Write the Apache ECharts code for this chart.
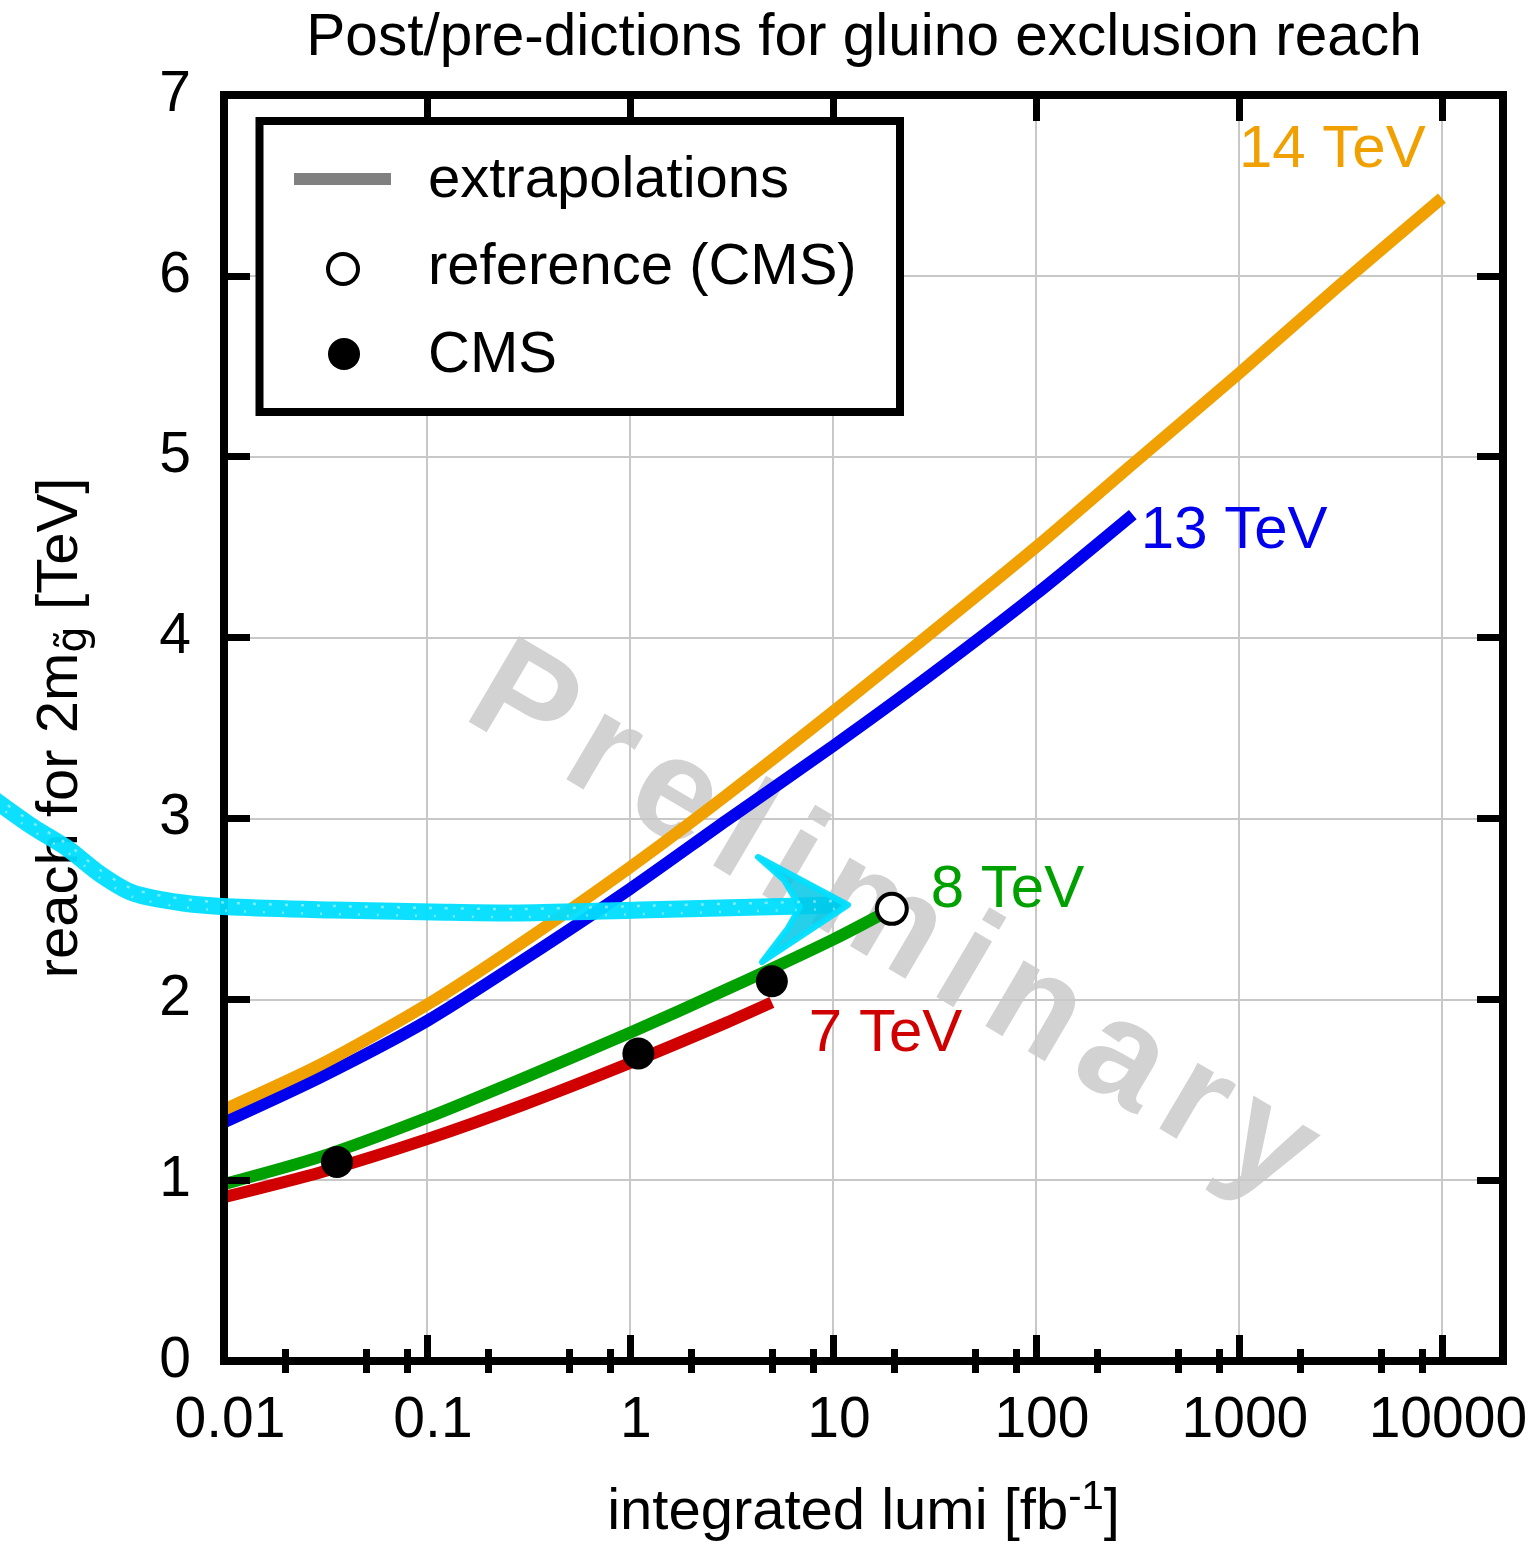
<!DOCTYPE html>
<html>
<head>
<meta charset="utf-8">
<script src="https://cdn.jsdelivr.net/npm/echarts@6/dist/echarts.min.js"></script>
<style>
  html, body { margin: 0; padding: 0; background: #fff; }
  #chart { width: 1537px; height: 1545px; }
</style>
</head>
<body>
<div id="chart"></div>
<script>
// Integrated luminosity (fb^-1) vs. reach for 2 m_gluino (TeV), per collision energy
const lumi14 = [0.01, 0.03, 0.1, 0.3, 1, 3, 10, 30, 100, 300, 1000, 3000, 10000];
const reach14 = [1.39, 1.64, 1.97, 2.32, 2.73, 3.13, 3.59, 4.02, 4.50, 4.96, 5.46, 5.93, 6.43];
const lumi13 = [0.01, 0.03, 0.1, 0.3, 1, 3, 10, 30, 100, 300];
const reach13 = [1.32, 1.57, 1.88, 2.22, 2.61, 2.99, 3.40, 3.79, 4.24, 4.68];
const lumi8 = [0.01, 0.03, 0.1, 0.3, 1, 3, 10, 19.5];
const reach8 = [0.978, 1.13, 1.345, 1.565, 1.815, 2.055, 2.33, 2.5];
const lumi7 = [0.01, 0.03, 0.1, 0.3, 1, 3, 5];
const reach7 = [0.906, 1.044, 1.227, 1.418, 1.648, 1.872, 1.983];

// CMS exclusion results and the reference point used for the extrapolation
const cmsLumi = [0.036, 1.1, 5];
const cmsReach = [1.1, 1.7, 2.1];
const refLumi = [19.5];
const refReach = [2.5];

// Axis ranges and ticks
const xMin = 0.01, xMax = 20000;
const yMin = 0, yMax = 7, yStep = 1;
const xMinorTicks = [0.02, 0.05, 0.08, 0.2, 0.5, 0.8, 2, 5, 8, 20, 50, 80,
                     200, 500, 800, 2000, 5000, 8000];

const FONT = 'Liberation Sans';
const pairs = (xs, ys) => xs.map((x, i) => [x, ys[i]]);
const fmtLog = v => {
  const e = Math.round(Math.log10(v));
  return e < 0 ? v.toFixed(-e) : String(Math.round(v));
};

const chart = echarts.init(document.getElementById('chart'), null, { renderer: 'canvas' });

const frameLine = { show: true, onZero: false, lineStyle: { color: '#000', width: 8, cap: 'square' } };
const majorTick = { show: true, inside: true, length: 26, lineStyle: { color: '#000', width: 7 } };
const minorTick = { show: true, inside: true, length: 12, lineStyle: { color: '#000', width: 7 },
                    customValues: xMinorTicks };
const gridLine = { show: true, lineStyle: { color: '#c8c8c8', width: 2 } };

function logX(extra) {
  return Object.assign({
    type: 'log', logBase: 10, min: xMin, max: xMax, gridIndex: 0,
    axisLine: { show: false }, axisTick: { show: false },
    axisLabel: { show: false }, splitLine: { show: false }, z: 5
  }, extra);
}
function linY(extra) {
  return Object.assign({
    type: 'value', min: yMin, max: yMax, interval: yStep, gridIndex: 0,
    axisLine: { show: false }, axisTick: { show: false },
    axisLabel: { show: false }, splitLine: { show: false }, z: 5
  }, extra);
}

const endLabel = (text, color, offset) => ({
  show: true, formatter: text, color: color, fontSize: 60, fontFamily: FONT,
  distance: 0, offset: offset
});
const curve = (name, xs, ys, color, offset) => ({
  name: name, type: 'line', xAxisIndex: 0, yAxisIndex: 0,
  data: pairs(xs, ys), showSymbol: false, smooth: 0.25,
  lineStyle: { color: color, width: 12, cap: 'butt', join: 'round' }, itemStyle: { color: color },
  endLabel: endLabel(name, color, offset), z: 3, silent: true
});

// Hand-drawn arrow pointing at the reference point
const arrowPath = [[-5, 800], [33, 827], [67, 848], [100, 874], [133, 893], [183, 903],
                   [233, 907], [333, 910], [433, 912], [520, 913], [640, 910], [760, 907], [835, 905]];
const shift = (pts, dy) => pts.map(p => [p[0], p[1] + dy]);

// "Preliminary" watermark, laid out letter by letter with wide spacing
const markText = 'Preliminary';
const markSize = 144;
const measure = document.createElement('canvas').getContext('2d');
measure.font = 'bold ' + markSize + 'px "' + FONT + '"';
let cursor = 0;
const markLetters = Array.from(markText).map(ch => {
  const el = {
    type: 'text', x: cursor, y: -0.35 * markSize,
    style: { text: ch, fontSize: markSize, fontWeight: 'bold', fontFamily: FONT,
             fill: 'rgba(90,90,90,0.27)', verticalAlign: 'middle', align: 'left' }
  };
  cursor += measure.measureText(ch).width + 17;
  return el;
});

const legendText = (y, text) => ({
  type: 'text', x: 428, y: y, z: 101,
  style: { text: text, fontSize: 58, fontFamily: FONT, fill: '#000', verticalAlign: 'middle' }
});

const option = {
  animation: false,
  backgroundColor: '#fff',
  textStyle: { fontFamily: FONT },
  title: {
    text: 'Post/pre-dictions for gluino exclusion reach',
    left: 859, top: 4, textAlign: 'center',
    textStyle: { fontSize: 58.5, fontWeight: 'normal', color: '#000', fontFamily: FONT }
  },
  grid: { left: 224, right: 34, top: 95, bottom: 184, containLabel: false, outerBoundsMode: 'none' },
  xAxis: [
    logX({
      position: 'bottom', axisLine: frameLine, axisTick: majorTick,
      axisLabel: { show: true, formatter: fmtLog, fontSize: 57, color: '#000', margin: 32,
                   padding: [0, 0, 0, 12], showMaxLabel: false, fontFamily: FONT },
      name: '{a|integrated lumi [fb}{s|-1}{a|]}',
      nameLocation: 'middle', nameGap: 117,
      nameTextStyle: {
        color: '#000',
        rich: {
          a: { fontSize: 58, lineHeight: 70, color: '#000', fontFamily: FONT },
          s: { fontSize: 40, lineHeight: 34, verticalAlign: 'top', color: '#000', fontFamily: FONT }
        }
      }
    }),
    logX({ position: 'bottom', axisTick: minorTick }),
    logX({ position: 'top', axisLine: frameLine, axisTick: majorTick }),
    logX({ position: 'top', axisTick: minorTick }),
    logX({ position: 'bottom', splitLine: gridLine, z: 0 })
  ],
  yAxis: [
    linY({
      position: 'left', axisLine: frameLine, axisTick: majorTick,
      axisLabel: { show: true, fontSize: 57, color: '#000', margin: 33, fontFamily: FONT },
      name: '{a|reach for 2m}{s|g\u0303}{a| [TeV]}',
      nameLocation: 'middle', nameGap: 128, nameRotate: 90,
      nameTextStyle: {
        color: '#000',
        rich: {
          a: { fontSize: 58, lineHeight: 70, color: '#000', fontFamily: FONT },
          s: { fontSize: 42, lineHeight: 50, verticalAlign: 'bottom', color: '#000', fontFamily: 'DejaVu Sans' }
        }
      }
    }),
    linY({ position: 'right', axisLine: frameLine, axisTick: majorTick }),
    linY({ position: 'left', splitLine: gridLine, z: 0 })
  ],
  series: [
    curve('13 TeV', lumi13, reach13, '#0000ee', [8, 17]),
    curve('14 TeV', lumi14, reach14, '#f0a000', [-203, -48]),
    curve('7 TeV', lumi7, reach7, '#d00000', [37, 32]),
    curve('8 TeV', lumi8, reach8, '#00a000', [39, -18]),
    {
      name: 'CMS', type: 'scatter', xAxisIndex: 0, yAxisIndex: 0,
      data: pairs(cmsLumi, cmsReach), symbol: 'circle', symbolSize: 32,
      itemStyle: { color: '#000', opacity: 1 }, z: 6, silent: true
    },
    {
      name: 'reference (CMS)', type: 'scatter', xAxisIndex: 0, yAxisIndex: 0,
      data: pairs(refLumi, refReach), symbol: 'circle', symbolSize: 30,
      itemStyle: { color: '#fff', borderColor: '#000', borderWidth: 4, opacity: 1 }, z: 6, silent: true
    }
  ],
  graphic: [
    // watermark
    { type: 'group', x: 455, y: 726, rotation: -30.5 * Math.PI / 180, z: 10, silent: true,
      children: markLetters },
    // legend box
    { type: 'rect', z: 100, silent: true,
      shape: { x: 259.5, y: 121, width: 640.5, height: 291 },
      style: { fill: '#fff', stroke: '#000', lineWidth: 8 } },
    { type: 'line', z: 101, silent: true,
      shape: { x1: 294, y1: 179, x2: 391, y2: 179 },
      style: { stroke: '#808080', lineWidth: 12 } },
    { type: 'circle', z: 101, silent: true,
      shape: { cx: 343, cy: 269, r: 15 },
      style: { fill: '#fff', stroke: '#000', lineWidth: 4 } },
    { type: 'circle', z: 101, silent: true,
      shape: { cx: 344, cy: 354, r: 16 },
      style: { fill: '#000' } },
    legendText(181, 'extrapolations'),
    legendText(268, 'reference (CMS)'),
    legendText(356, 'CMS'),
    // arrow
    { type: 'polyline', z: 20, silent: true,
      shape: { points: arrowPath, smooth: 0.3 },
      style: { stroke: 'rgba(0,222,255,0.95)', lineWidth: 17, lineCap: 'round', lineJoin: 'round', fill: null } },
    { type: 'polyline', z: 21, silent: true,
      shape: { points: shift(arrowPath, -4), smooth: 0.3 },
      style: { stroke: 'rgba(255,255,255,0.45)', lineWidth: 2.5, lineDash: [3, 13], fill: null } },
    { type: 'polyline', z: 21, silent: true,
      shape: { points: shift(arrowPath, 4), smooth: 0.3 },
      style: { stroke: 'rgba(255,255,255,0.4)', lineWidth: 2.5, lineDash: [2, 17], lineDashOffset: 6, fill: null } },
    { type: 'polygon', z: 20, silent: true,
      shape: { points: [[758, 857], [848, 905], [762, 962], [788, 928], [800, 907], [784, 880]] },
      style: { fill: 'rgba(0,200,232,0.85)', stroke: 'rgba(0,222,255,0.95)', lineWidth: 6, lineJoin: 'round' } }
  ]
};

chart.setOption(option);
</script>
</body>
</html>
